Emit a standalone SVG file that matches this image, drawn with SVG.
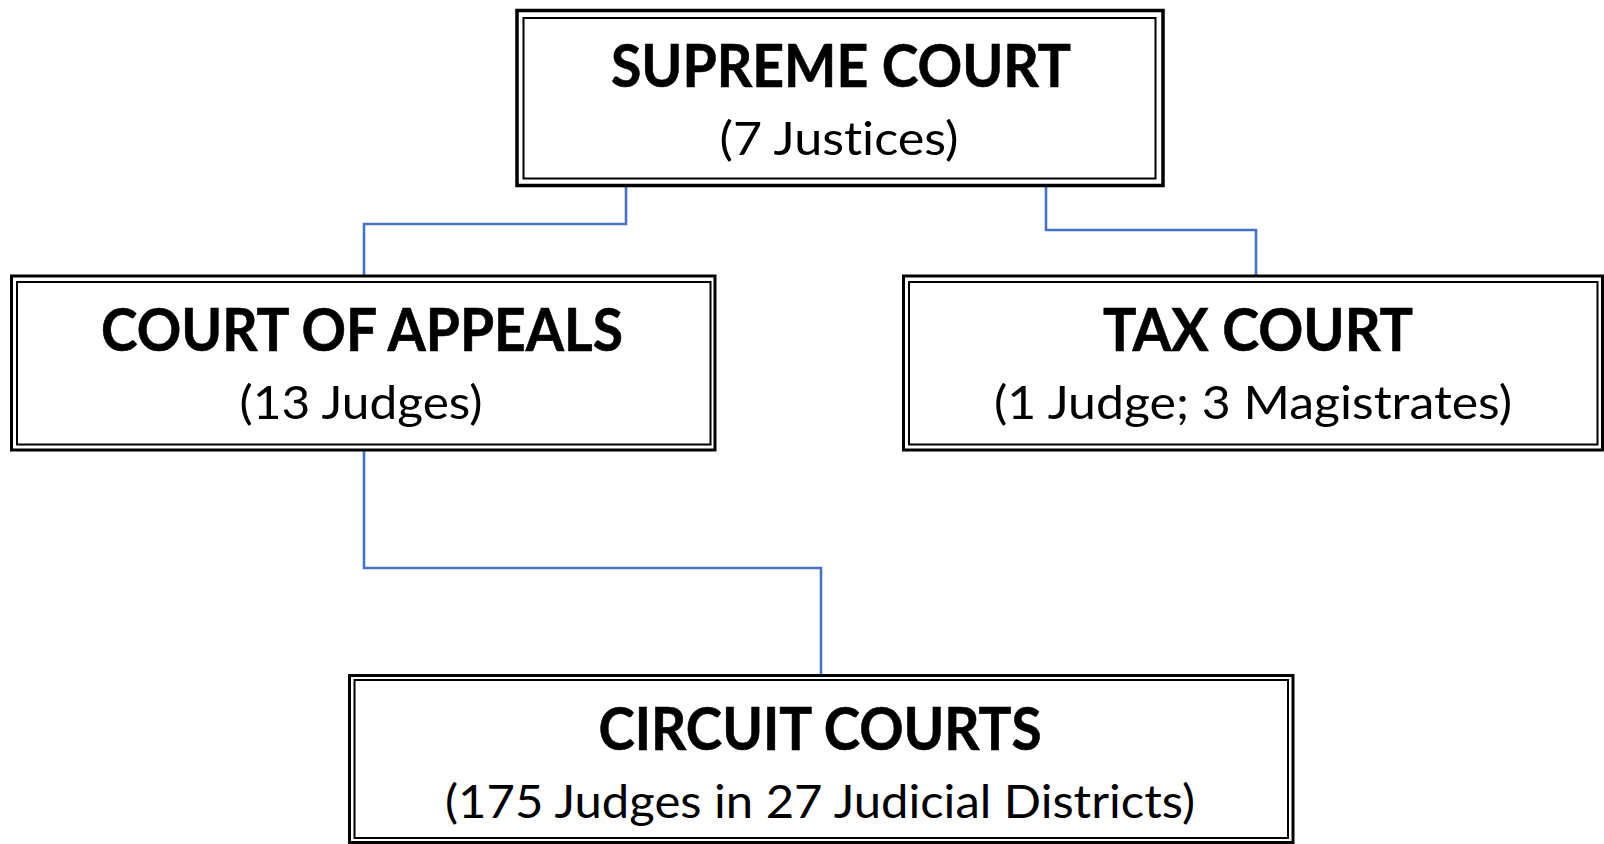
<svg xmlns="http://www.w3.org/2000/svg" width="1604" height="844" viewBox="0 0 1604 844">
<style>
.bg{fill:#ffffff}
.outer{fill:none;stroke:#000;stroke-width:3}
.inner{fill:none;stroke:#000;stroke-width:2}
.outerT{fill:none;stroke:#000;stroke-width:3.5}
.conn{fill:none;stroke:#4472C4;stroke-width:2.6}
text{font-variant-ligatures:none;font-feature-settings:"liga" 0,"clig" 0}
.title{font-family:Lato,"Open Sans","Liberation Sans",sans-serif;font-weight:bold;font-size:60px;fill:#000;text-anchor:middle;stroke:#000;stroke-width:0.6}
.sub{font-family:Lato,"Open Sans","Liberation Sans",sans-serif;font-size:47px;fill:#000;text-anchor:middle}
</style>
<rect class="bg" x="0" y="0" width="1604" height="844"/>
<g id="connectors">
<path class="conn" d="M626 186 V224 H364 V276"/>
<path class="conn" d="M1046 186 V230 H1256 V276"/>
<path class="conn" d="M364 450 V568 H821 V676"/>
</g>
<g id="supreme">
<rect class="outerT" x="517" y="10.5" width="646" height="175"/>
<rect class="inner" x="523.5" y="18" width="632" height="160.5"/>
<text class="title" x="841" y="87" textLength="460" lengthAdjust="spacingAndGlyphs">SUPREME COURT</text>
<text class="sub" x="839" y="155" textLength="239" lengthAdjust="spacingAndGlyphs">(7 Justices)</text>
</g>
<g id="appeals">
<rect class="outer" x="11.5" y="276" width="703.5" height="174"/>
<rect class="inner" x="17" y="282" width="693.5" height="162.5"/>
<text class="title" x="362" y="351" textLength="522" lengthAdjust="spacingAndGlyphs">COURT OF APPEALS</text>
<text class="sub" x="361" y="419" textLength="243" lengthAdjust="spacingAndGlyphs">(13 Judges)</text>
</g>
<g id="tax">
<rect class="outer" x="903.5" y="276" width="699" height="174"/>
<rect class="inner" x="909" y="282" width="688.5" height="162.5"/>
<text class="title" x="1258" y="351" textLength="310" lengthAdjust="spacingAndGlyphs">TAX COURT</text>
<text class="sub" x="1253" y="419" textLength="518" lengthAdjust="spacingAndGlyphs">(1 Judge; 3 Magistrates)</text>
</g>
<g id="circuit">
<rect class="outer" x="349.5" y="675.5" width="943.5" height="167"/>
<rect class="inner" x="354.5" y="680" width="933.5" height="158"/>
<text class="title" x="820" y="750" textLength="443" lengthAdjust="spacingAndGlyphs">CIRCUIT COURTS</text>
<text class="sub" x="820" y="818" textLength="750" lengthAdjust="spacingAndGlyphs">(175 Judges in 27 Judicial Districts)</text>
</g>
</svg>
